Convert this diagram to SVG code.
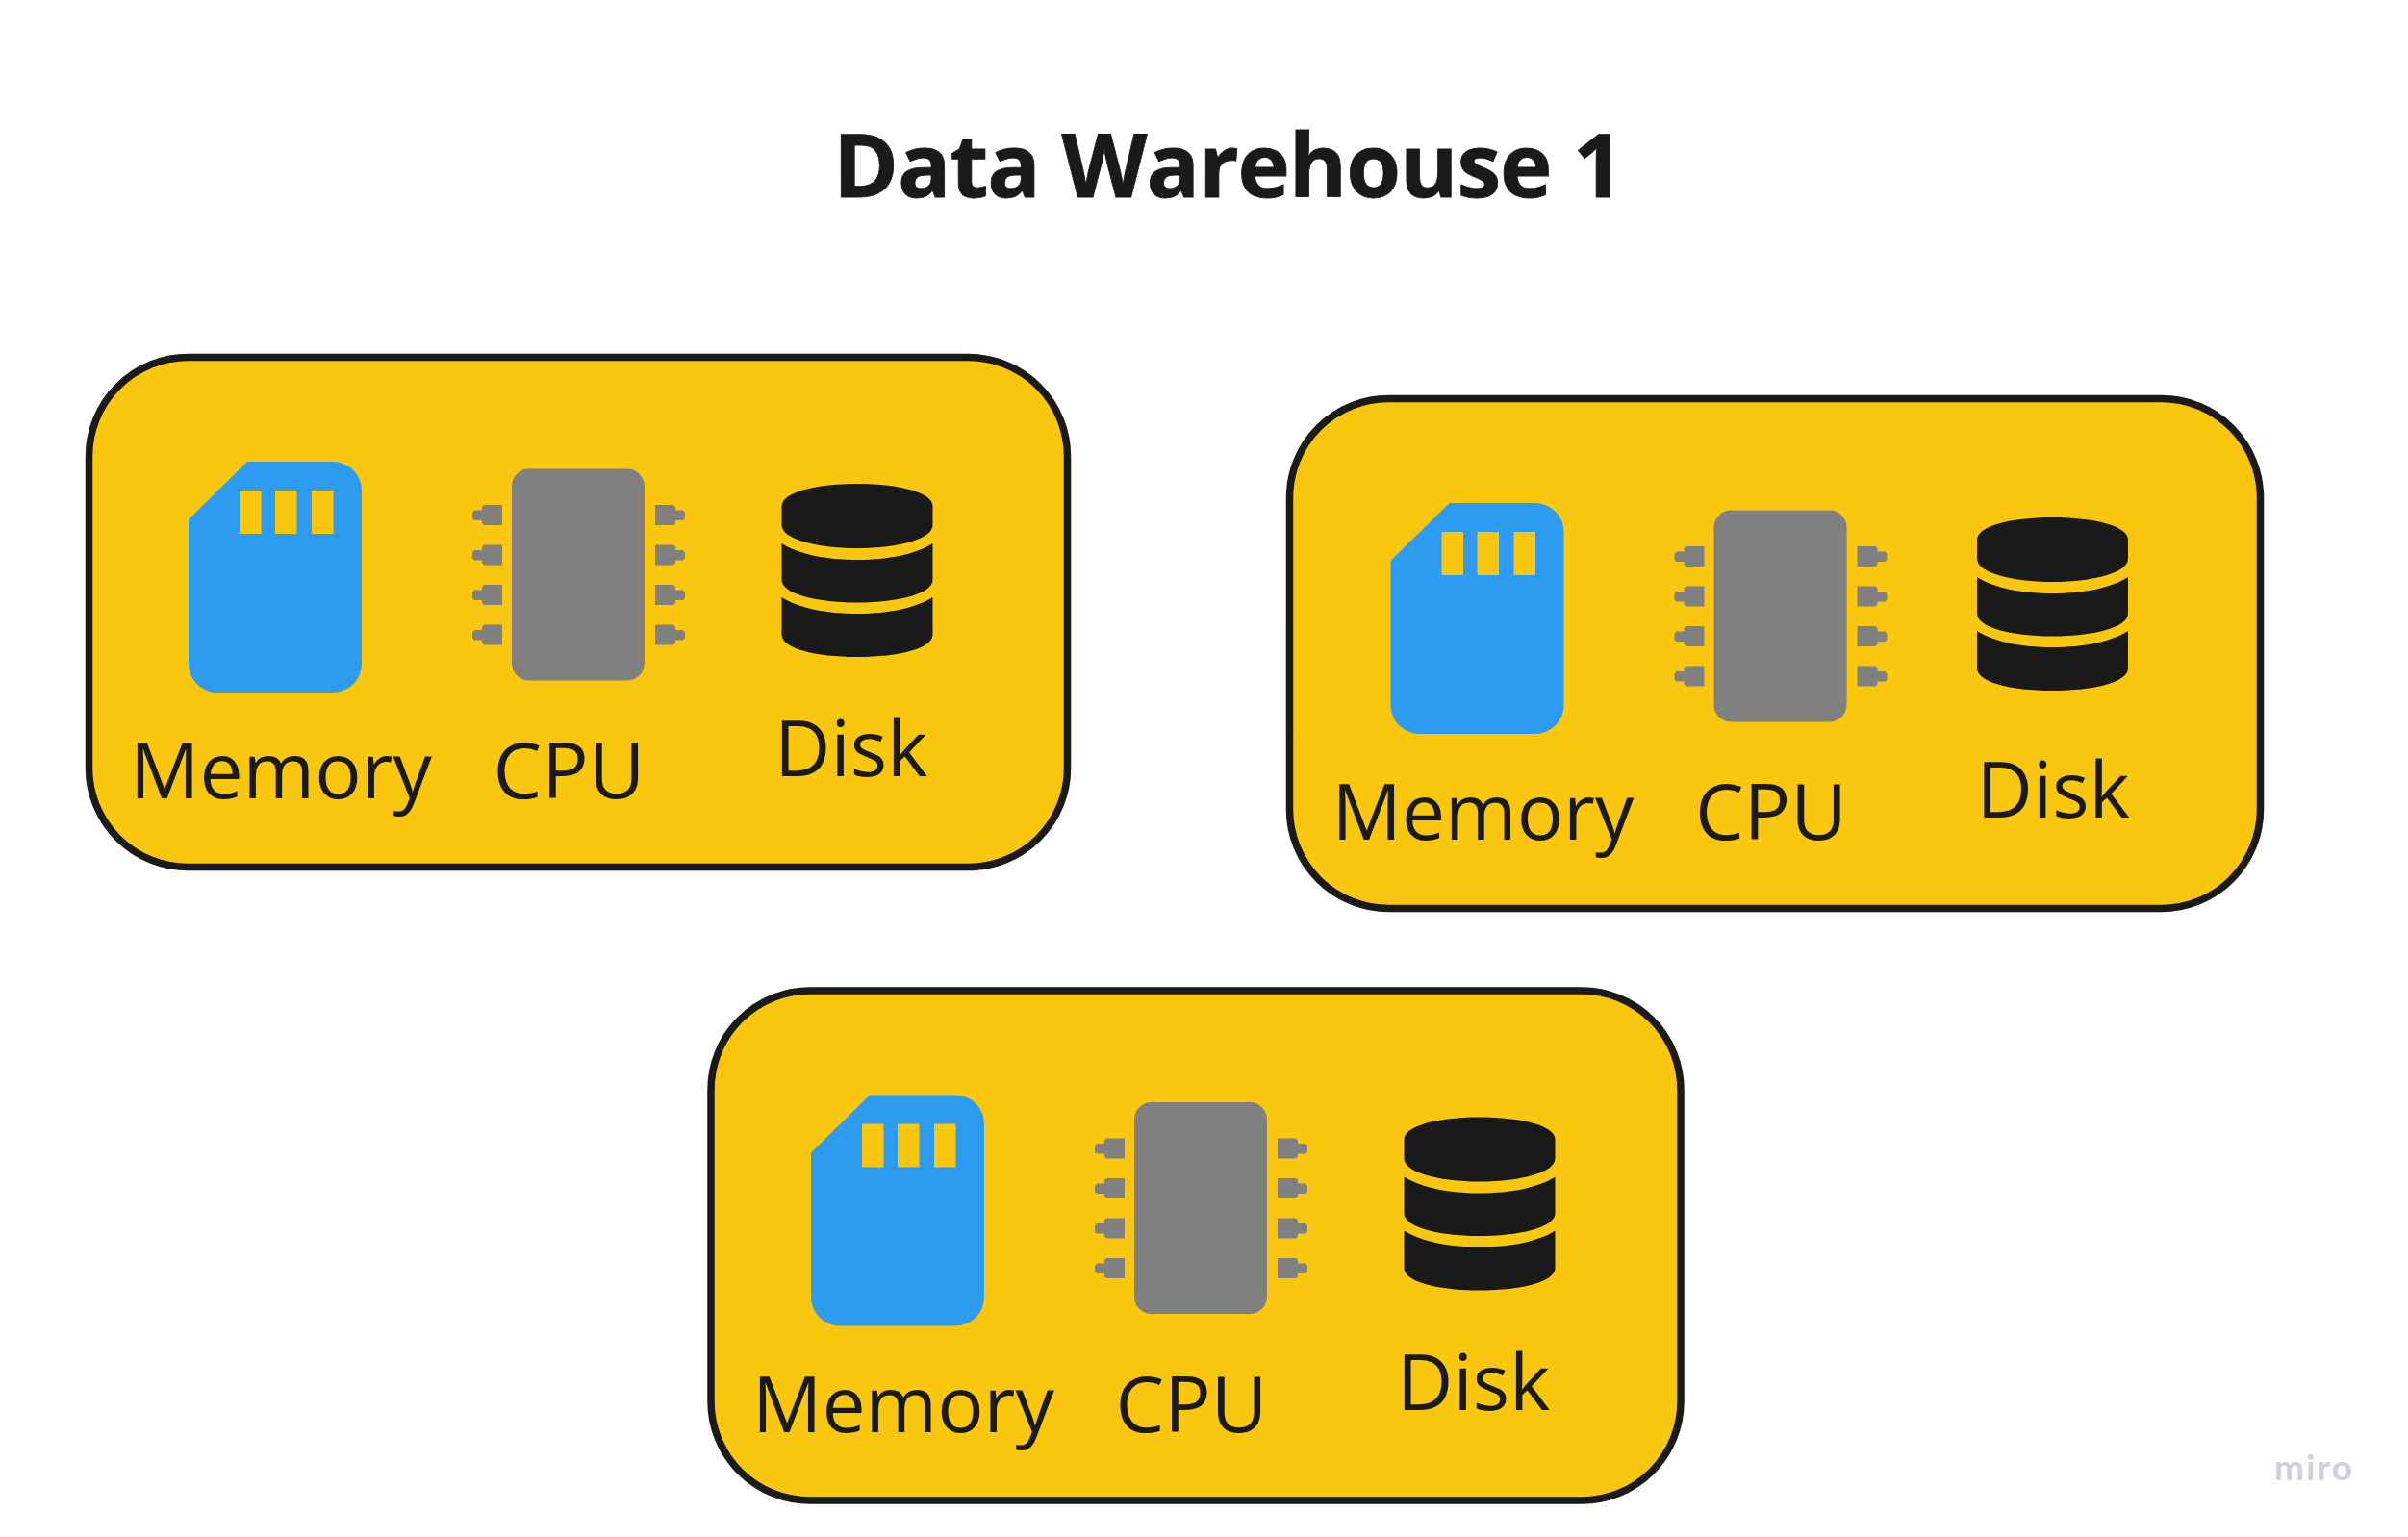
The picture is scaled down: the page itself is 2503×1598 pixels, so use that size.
<svg xmlns="http://www.w3.org/2000/svg" width="2503" height="1598" viewBox="0 0 2503 1598">
<style>
.box{fill:#fac710;stroke:#1a1a1a;stroke-width:7.500}
.lbl{font-family:"Open Sans",sans-serif;font-size:80.500px;fill:#1a1a1a}
.title{font-family:"Open Sans",sans-serif;font-size:92px;font-weight:700;fill:#1a1a1a;letter-spacing:-1.100px;stroke:#1a1a1a;stroke-width:.8px}
.miro{font-family:"Lato",sans-serif;font-size:37px;font-weight:700;fill:#d0d0dc;letter-spacing:2px}
.sd{fill:#2d9bf0}.cont{fill:#fac710}.chip{fill:#808080}.db{fill:#1a1a1a}
</style>
<defs>
<g id="sd-icon">
<path class="sd" d="M257 480H346A30 30 0 0 1 376 510V690A30 30 0 0 1 346 720H226A30 30 0 0 1 196 690V540Z"/>
<rect class="cont" x="249" y="510" width="22.500" height="45"/>
<rect class="cont" x="286" y="510" width="22.500" height="45"/>
<rect class="cont" x="324" y="510" width="22.500" height="45"/>
</g>
<path id="pin-l" class="chip" d="M522 525V546H503L501 544V541H493L491 539V533L493 530.500H501V527L503 525Z"/>
<path id="pin-r" class="chip" d="M681 525V546H700L702 544V541H710L712 539V533L710 530.500H702V527L700 525Z"/>
<g id="cpu-icon">
<rect class="chip" x="532" y="487.500" width="138" height="220" rx="18"/>
<use href="#pin-l"/><use href="#pin-l" y="41.500"/><use href="#pin-l" y="83"/><use href="#pin-l" y="124.500"/>
<use href="#pin-r"/><use href="#pin-r" y="41.500"/><use href="#pin-r" y="83"/><use href="#pin-r" y="124.500"/>
</g>
<g id="disk-icon">
<path class="db" d="M812.500 526C812.500 512 848 503 891 503S969.500 512 969.500 526V546C969.500 560 935 570 891 570S812.500 560 812.500 546Z"/>
<path class="db" d="M812.500 565C830 576 858 582 891 582S952 576 969.500 565V603C969.500 617 935 626.500 891 626.500S812.500 617 812.500 603Z"/>
<path class="db" d="M812.500 621C830 632 858 638 891 638S952 632 969.500 621V660C969.500 674 935 683 891 683S812.500 674 812.500 660Z"/>
</g>
</defs>
<rect width="2503" height="1598" fill="#fff"/>
<text id="title" class="title" x="866" y="205">Data Warehouse 1</text>
<g id="node-1">
<rect class="box" x="92.500" y="371.500" width="1017" height="530" rx="103"/>
<use href="#sd-icon"/><use href="#cpu-icon"/><use href="#disk-icon"/>
<text class="lbl" x="135" y="830">Memory</text>
<text class="lbl" x="512.500" y="830">CPU</text>
<text class="lbl" x="805" y="807">Disk</text>
</g>
<g id="node-2" transform="translate(1249.500 43)">
<rect class="box" x="91" y="371.500" width="1009" height="530" rx="103"/>
<use href="#sd-icon"/><use href="#cpu-icon"/><use href="#disk-icon" x="-7" y="-8"/>
<text class="lbl" x="135" y="830">Memory</text>
<text class="lbl" x="512.500" y="830">CPU</text>
<text class="lbl" x="805" y="807">Disk</text>
</g>
<g id="node-3" transform="translate(647 658.500)">
<rect class="box" x="92" y="371.500" width="1008" height="530" rx="103"/>
<use href="#sd-icon"/><use href="#cpu-icon"/><use href="#disk-icon"/>
<text class="lbl" x="135" y="830">Memory</text>
<text class="lbl" x="512.500" y="830">CPU</text>
<text class="lbl" x="805" y="807">Disk</text>
</g>
<text id="watermark" class="miro" x="2364" y="1539">miro</text>
</svg>
